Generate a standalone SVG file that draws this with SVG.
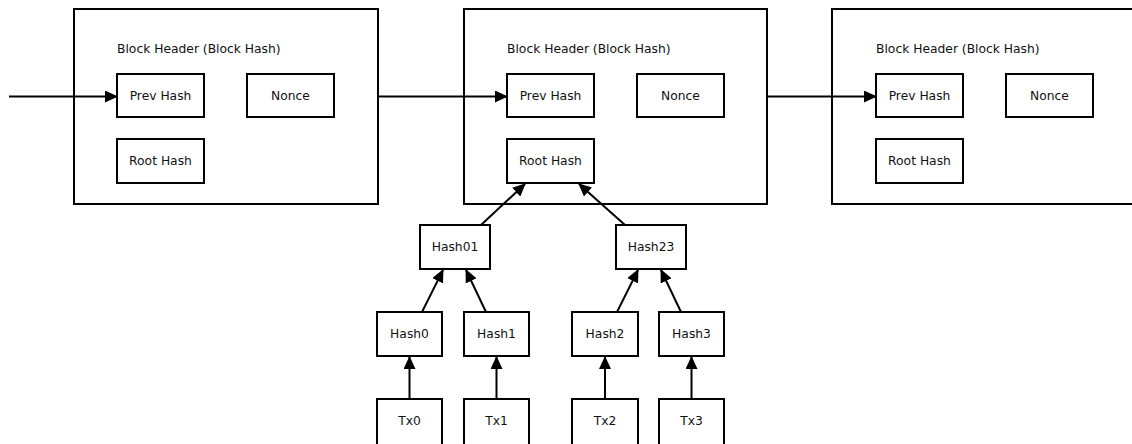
<svg xmlns="http://www.w3.org/2000/svg" width="1132" height="444" viewBox="0 0 1132 444">
<style>
.blk{fill:#fff;stroke:#000;stroke-width:2}
.box{fill:#fff;stroke:#000;stroke-width:2}
.t{font-family:"DejaVu Sans",sans-serif;font-size:12.3px;fill:#111}
.c{text-anchor:middle}
.ln{stroke:#000;stroke-width:2;fill:none;marker-end:url(#ah)}
</style>
<defs>
<marker id="ah" markerUnits="userSpaceOnUse" markerWidth="13" markerHeight="12" viewBox="0 0 13 12" refX="12" refY="6" orient="auto">
<path d="M0,0 L13,6 L0,12 z" fill="#000"/>
</marker>
</defs>
<rect width="1132" height="444" fill="#fff"/>
<g id="block1">
<rect class="blk" x="74" y="9" width="304" height="195"/>
<text class="t" x="117" y="53">Block Header (Block Hash)</text>
<rect class="box" x="117" y="74" width="87" height="43"/>
<text class="t c" x="160.5" y="100">Prev Hash</text>
<rect class="box" x="247" y="74" width="87" height="43"/>
<text class="t c" x="290.5" y="100">Nonce</text>
<rect class="box" x="117" y="139" width="87" height="44"/>
<text class="t c" x="160.5" y="165">Root Hash</text>
</g>
<g id="block2">
<rect class="blk" x="464" y="9" width="303" height="195"/>
<text class="t" x="507" y="53">Block Header (Block Hash)</text>
<rect class="box" x="507" y="74" width="87" height="43"/>
<text class="t c" x="550.5" y="100">Prev Hash</text>
<rect class="box" x="637" y="74" width="87" height="43"/>
<text class="t c" x="680.5" y="100">Nonce</text>
<rect class="box" x="507" y="139" width="87" height="44"/>
<text class="t c" x="550.5" y="165">Root Hash</text>
</g>
<g id="block3">
<rect class="blk" x="832" y="9" width="310" height="195"/>
<text class="t" x="876" y="53">Block Header (Block Hash)</text>
<rect class="box" x="876" y="74" width="87" height="43"/>
<text class="t c" x="919.5" y="100">Prev Hash</text>
<rect class="box" x="1006" y="74" width="87" height="43"/>
<text class="t c" x="1049.5" y="100">Nonce</text>
<rect class="box" x="876" y="139" width="87" height="44"/>
<text class="t c" x="919.5" y="165">Root Hash</text>
</g>
<g id="hash01"><rect class="box" x="420" y="225" width="70" height="44"/><text class="t c" x="455" y="251">Hash01</text></g>
<g id="hash23"><rect class="box" x="616" y="225" width="70" height="44"/><text class="t c" x="651" y="251">Hash23</text></g>
<g id="hash0"><rect class="box" x="377" y="312" width="65" height="44"/><text class="t c" x="409.5" y="338">Hash0</text></g>
<g id="hash1"><rect class="box" x="464" y="312" width="65" height="44"/><text class="t c" x="496.5" y="338">Hash1</text></g>
<g id="hash2"><rect class="box" x="572" y="312" width="66" height="44"/><text class="t c" x="605" y="338">Hash2</text></g>
<g id="hash3"><rect class="box" x="659" y="312" width="65" height="44"/><text class="t c" x="691.5" y="338">Hash3</text></g>
<g id="tx0"><rect class="box" x="377" y="399" width="65" height="46"/><text class="t c" x="409.5" y="425">Tx0</text></g>
<g id="tx1"><rect class="box" x="464" y="399" width="65" height="46"/><text class="t c" x="496.5" y="425">Tx1</text></g>
<g id="tx2"><rect class="box" x="572" y="399" width="66" height="46"/><text class="t c" x="605" y="425">Tx2</text></g>
<g id="tx3"><rect class="box" x="659" y="399" width="65" height="46"/><text class="t c" x="691.5" y="425">Tx3</text></g>
<g id="connectors">
<line class="ln" x1="9" y1="96.5" x2="117" y2="96.5"/>
<line class="ln" x1="378" y1="96.5" x2="507" y2="96.5"/>
<line class="ln" x1="767" y1="96.5" x2="876" y2="96.5"/>
<line class="ln" x1="481" y1="225" x2="525" y2="184"/>
<line class="ln" x1="625" y1="225" x2="579" y2="184"/>
<line class="ln" x1="422" y1="312" x2="443" y2="270"/>
<line class="ln" x1="486" y1="312" x2="466" y2="270"/>
<line class="ln" x1="617" y1="312" x2="638" y2="270"/>
<line class="ln" x1="681" y1="312" x2="661" y2="270"/>
<line class="ln" x1="409.5" y1="399" x2="409.5" y2="357"/>
<line class="ln" x1="496.5" y1="399" x2="496.5" y2="357"/>
<line class="ln" x1="605" y1="399" x2="605" y2="357"/>
<line class="ln" x1="691.5" y1="399" x2="691.5" y2="357"/>
</g>
</svg>
